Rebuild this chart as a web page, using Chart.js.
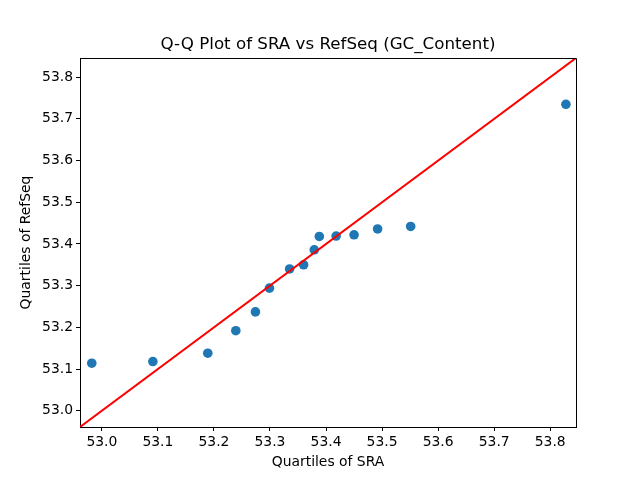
<!DOCTYPE html>
<html>
<head>
<meta charset="utf-8">
<script src="https://cdn.jsdelivr.net/npm/chart.js@4"></script>
<style>
  body { margin: 0; background: #fff; }
  #qq { display: block; }
</style>
</head>
<body>
<canvas id="qq" width="640" height="480"></canvas>
<script>
// Quantiles
const sraQuantiles = [52.982, 53.091, 53.189, 53.239, 53.274, 53.299, 53.335, 53.360, 53.379, 53.388, 53.418, 53.450, 53.492, 53.551, 53.828];
const refseqQuantiles = [53.114, 53.118, 53.138, 53.192, 53.237, 53.294, 53.340, 53.350, 53.386, 53.418, 53.419, 53.422, 53.436, 53.442, 53.735];

// shared axis limits (reference line y = x runs corner to corner)
const axisMin = 52.961;
const axisMax = 53.846;
const tickValues = [53.0, 53.1, 53.2, 53.3, 53.4, 53.5, 53.6, 53.7, 53.8];

const titleText = "Q-Q Plot of SRA vs RefSeq (GC_Content)";
const xLabel = "Quartiles of SRA";
const yLabel = "Quartiles of RefSeq";

const FONT = "'DejaVu Sans', sans-serif";

const points = sraQuantiles.map((x, i) => ({ x: x, y: refseqQuantiles[i] }));
const refLine = [{ x: axisMin, y: axisMin }, { x: axisMax, y: axisMax }];

// title centred over the axes + top/right spines
const framePlugin = {
  id: "frame",
  afterDraw(chart) {
    const { ctx, chartArea: a } = chart;
    ctx.save();
    ctx.strokeStyle = "#000";
    ctx.lineWidth = 1;
    ctx.beginPath();
    ctx.moveTo(a.left, a.top + 0.5);
    ctx.lineTo(a.right + 0.5, a.top + 0.5);
    ctx.lineTo(a.right + 0.5, a.bottom);
    ctx.stroke();
    ctx.fillStyle = "#000";
    ctx.font = "16.7px " + FONT;
    ctx.textAlign = "center";
    ctx.textBaseline = "alphabetic";
    ctx.fillText(titleText, (a.left + a.right) / 2, 49);
    ctx.restore();
  }
};

function axisCommon(label, isX) {
  return {
    type: "linear",
    min: axisMin,
    max: axisMax,
    afterBuildTicks: axis => { axis.ticks = tickValues.map(v => ({ value: v })); },
    afterFit: axis => {
      if (isX) axis.height = 53; else axis.width = 80;
    },
    grid: { display: true, drawOnChartArea: false, drawTicks: true, tickLength: 4, color: "#000" },
    border: { display: true, color: "#000", width: 1 },
    ticks: {
      color: "#000",
      padding: 3,
      maxRotation: 0,
      autoSkip: false,
      font: { family: FONT, size: 13.9 },
      callback: v => v.toFixed(1)
    },
    title: {
      display: true,
      text: label,
      color: "#000",
      font: { family: FONT, size: 13.9 },
      padding: isX ? { top: 0, bottom: 9 } : { top: 18, bottom: 0 }
    }
  };
}

new Chart(document.getElementById("qq"), {
  type: "scatter",
  data: {
    datasets: [
      {
        type: "line",
        data: refLine,
        borderColor: "#ff0000",
        borderWidth: 2,
        pointRadius: 0,
        fill: false,
        order: 0
      },
      {
        type: "scatter",
        data: points,
        backgroundColor: "#1f77b4",
        borderColor: "#1f77b4",
        borderWidth: 0,
        pointRadius: 4.8,
        order: 1
      }
    ]
  },
  options: {
    responsive: false,
    animation: false,
    devicePixelRatio: 1,
    layout: { padding: { top: 58, left: 0, right: 64, bottom: 0 } },
    plugins: {
      legend: { display: false },
      title: { display: false },
      tooltip: { enabled: false }
    },
    scales: {
      x: axisCommon(xLabel, true),
      y: axisCommon(yLabel, false)
    }
  },
  plugins: [framePlugin]
});
</script>
</body>
</html>
